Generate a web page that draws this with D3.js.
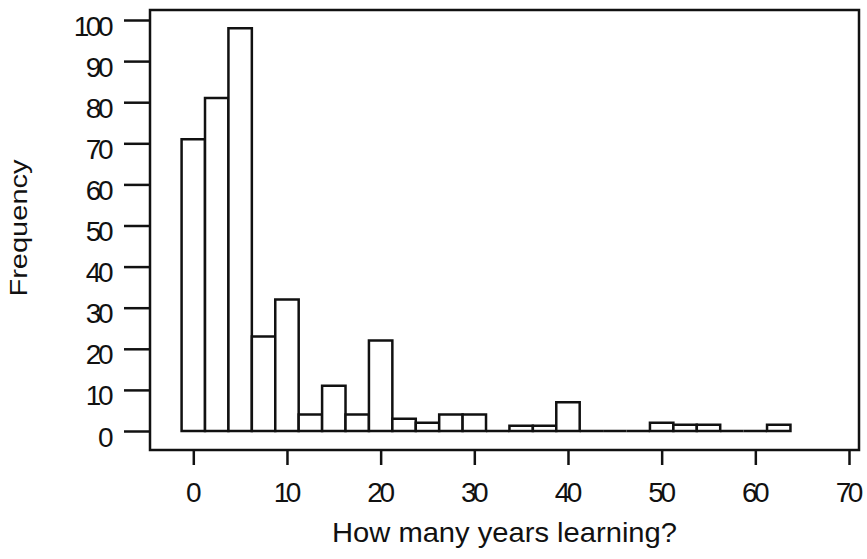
<!DOCTYPE html>
<html>
<head>
<meta charset="utf-8">
<script src="https://cdn.jsdelivr.net/npm/d3@7"></script>
<style>
  html, body { margin: 0; padding: 0; background: #fff; }
  svg { display: block; }
  text { font-family: "Liberation Sans", Arial, Helvetica, sans-serif; fill: #111; }
</style>
</head>
<body>
<svg id="chart" width="867" height="559"></svg>
<script>
// Histogram of years spent learning: bin centres (years) and counts
const binCenters = [0, 2.5, 5, 7.5, 10, 12.5, 15, 17.5, 20, 22.5, 25, 27.5, 30,
                    32.5, 35, 37.5, 40, 42.5, 45, 47.5, 50, 52.5, 55, 57.5, 60, 62.5];
const frequencies = [71, 81, 98, 23, 32, 4, 11, 4, 22, 3, 2, 4, 4,
                     0, 1.3, 1.3, 7, 0, 0, 0, 2, 1.5, 1.5, 0, 0, 1.5];
const binWidth = 2.5;
const xTicks = [0, 10, 20, 30, 40, 50, 60, 70];
const yTicks = [0, 10, 20, 30, 40, 50, 60, 70, 80, 90, 100];
const xTitle = "How many years learning?";
const yTitle = "Frequency";

const svg = d3.select("#chart");
const frame = { left: 150, right: 859, top: 10, bottom: 450 };
const ink = "#111";
const lw = 2.5;

const x = d3.scaleLinear().domain([0, 70]).range([193.3, 849]);
const y = d3.scaleLinear().domain([0, 100]).range([431, 20]);

// Bars drawn as outlined paths so empty bins still show as a flat line
const bins = binCenters.map((c, i) => ({ x0: c - binWidth / 2, x1: c + binWidth / 2, n: frequencies[i] }));
svg.append("g")
  .selectAll("path")
  .data(bins)
  .join("path")
  .attr("d", d => {
    const p = d3.path();
    p.moveTo(x(d.x0), y(0));
    p.lineTo(x(d.x0), y(d.n));
    p.lineTo(x(d.x1), y(d.n));
    p.lineTo(x(d.x1), y(0));
    p.closePath();
    return p.toString();
  })
  .attr("fill", "#fff")
  .attr("stroke", ink)
  .attr("stroke-width", lw)
  .attr("stroke-linejoin", "miter");

// Plot frame
svg.append("rect")
  .attr("x", frame.left)
  .attr("y", frame.top)
  .attr("width", frame.right - frame.left)
  .attr("height", frame.bottom - frame.top)
  .attr("fill", "none")
  .attr("stroke", ink)
  .attr("stroke-width", lw);

// Y axis
const yAxis = svg.append("g")
  .attr("transform", `translate(${frame.left},0)`)
  .call(d3.axisLeft(y).tickValues(yTicks).tickSize(26).tickPadding(14).tickFormat(d3.format("d")));
yAxis.select(".domain").remove();
yAxis.selectAll(".tick line").attr("stroke", ink).attr("stroke-width", lw);
yAxis.selectAll(".tick text")
  .attr("dy", null)
  .attr("y", 15)
  .style("font-size", "28px")
  .style("letter-spacing", "-3.5px")
  .style("font-family", '"Liberation Sans", Arial, sans-serif')
  .attr("fill", ink);

// X axis
const xAxis = svg.append("g")
  .attr("transform", `translate(0,${frame.bottom})`)
  .call(d3.axisBottom(x).tickValues(xTicks).tickSize(15).tickFormat(d3.format("d")));
xAxis.select(".domain").remove();
xAxis.selectAll(".tick line").attr("stroke", ink).attr("stroke-width", lw);
xAxis.selectAll(".tick text")
  .attr("dy", null)
  .attr("y", 52)
  .attr("dx", -1.75)
  .style("font-size", "28px")
  .style("letter-spacing", "-3.5px")
  .style("font-family", '"Liberation Sans", Arial, sans-serif')
  .attr("fill", ink);

// Axis titles
svg.append("text")
  .attr("x", (frame.left + frame.right) / 2)
  .attr("y", 542)
  .attr("text-anchor", "middle")
  .attr("textLength", 345)
  .attr("lengthAdjust", "spacingAndGlyphs")
  .style("font-size", "28px")
  .text(xTitle);

svg.append("text")
  .attr("transform", "translate(27,228) rotate(-90)")
  .attr("text-anchor", "middle")
  .attr("textLength", 137)
  .attr("lengthAdjust", "spacingAndGlyphs")
  .style("font-size", "24px")
  .text(yTitle);
</script>
</body>
</html>
